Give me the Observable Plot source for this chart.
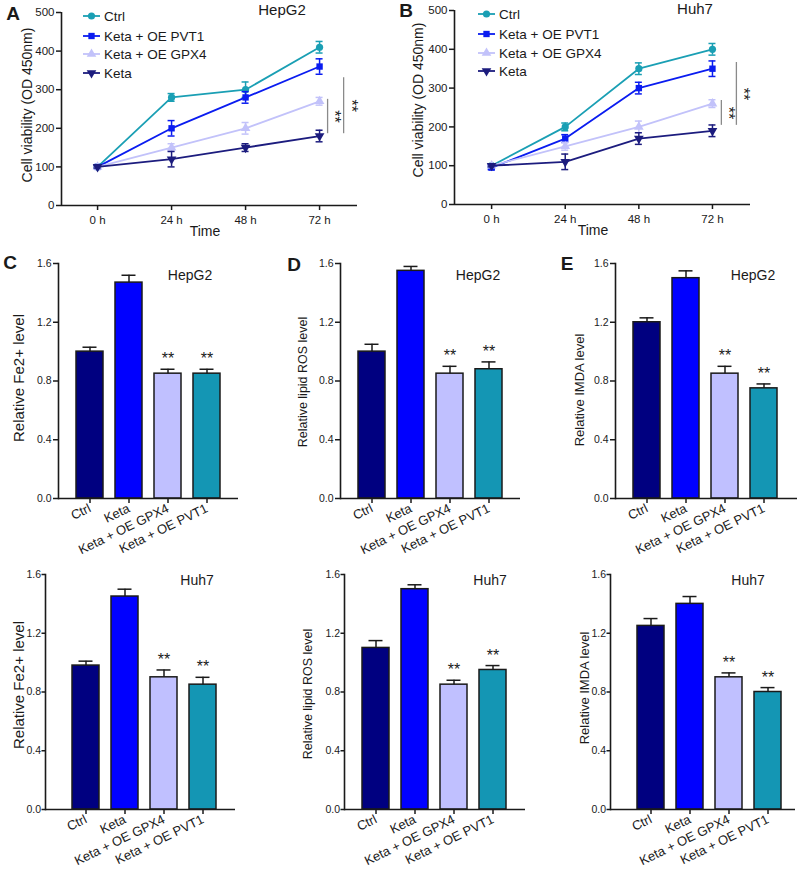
<!DOCTYPE html>
<html><head><meta charset="utf-8">
<script src="https://cdn.jsdelivr.net/npm/d3@7"></script>
<script src="https://cdn.jsdelivr.net/npm/@observablehq/plot@0.6"></script>
<style>
body{margin:0;background:#fff;font-family:"Liberation Sans",Arial,sans-serif;color:#1a1a1a;}
#root{position:relative;width:800px;height:875px;overflow:hidden;background:#fff;}
</style></head><body><div id="root"></div>
<script>
// ---------- data ----------
const hours = [0, 24, 48, 72];
const lineNames = ["Ctrl", "Keta + OE PVT1", "Keta + OE GPX4", "Keta"];
const lineColors = ["#1a9fb4", "#0a1cf0", "#c2c2fa", "#1c1c7e"];

// HepG2 cell viability (OD 450nm)
const hepCtrl = [100, 280, 300, 410], hepCtrlErr = [3, 10, 20, 15];
const hepPVT1 = [100, 200, 280, 360], hepPVT1Err = [3, 20, 15, 20];
const hepGPX4 = [100, 150, 200, 270], hepGPX4Err = [3, 10, 15, 10];
const hepKeta = [100, 120, 150, 180], hepKetaErr = [3, 20, 10, 15];
// Huh7 cell viability (OD 450nm)
const huhCtrl = [100, 200, 350, 400], huhCtrlErr = [5, 10, 15, 15];
const huhPVT1 = [95, 170, 300, 350], huhPVT1Err = [5, 10, 15, 20];
const huhGPX4 = [100, 150, 200, 260], huhGPX4Err = [3, 10, 15, 10];
const huhKeta = [100, 110, 170, 190], huhKetaErr = [3, 20, 15, 15];
// significance brackets (hour position, low, high)
const hepBrackets = [{h: 74.6, lo: 186, hi: 275, s: "**"}, {h: 79.8, lo: 186, hi: 331, s: "**"}];
const huhBrackets = [{h: 74.9, lo: 204, hi: 268, s: "**"}, {h: 79.8, lo: 204, hi: 366, s: "**"}];

const groups = ["Ctrl", "Keta", "Keta + OE GPX4", "Keta + OE PVT1"];
const barColors = ["#000080", "#0000ff", "#c0c0ff", "#1496b4"];
const barSig = ["", "", "**", "**"];
const barTicks = [0, 0.4, 0.8, 1.2, 1.6];

const fe2Hep = [1.00, 1.47, 0.85, 0.85], fe2HepErr = [0.03, 0.05, 0.03, 0.03];
const rosHep = [1.00, 1.55, 0.85, 0.88], rosHepErr = [0.05, 0.03, 0.05, 0.05];
const mdaHep = [1.20, 1.50, 0.85, 0.75], mdaHepErr = [0.03, 0.05, 0.05, 0.03];
const fe2Huh = [0.98, 1.45, 0.90, 0.85], fe2HuhErr = [0.03, 0.05, 0.05, 0.05];
const rosHuh = [1.10, 1.50, 0.85, 0.95], rosHuhErr = [0.05, 0.03, 0.03, 0.03];
const mdaHuh = [1.25, 1.40, 0.90, 0.80], mdaHuhErr = [0.05, 0.05, 0.03, 0.03];

// ---------- helpers ----------
const FONT = "Liberation Sans, Arial, sans-serif";
const INK = "#1a1a1a";
const root = document.getElementById("root");
const triDown = {
  draw(ctx, size) {
    const k = Math.sqrt(size / (Math.sqrt(3) * 3));
    ctx.moveTo(0, 2 * k);
    ctx.lineTo(-Math.sqrt(3) * k, -k);
    ctx.lineTo(Math.sqrt(3) * k, -k);
    ctx.closePath();
  }
};
const lineSymbols = ["circle", "square", "triangle", triDown];
const d3Symbols = [d3.symbolCircle, d3.symbolSquare, d3.symbolTriangle, triDown];

function place(node, left, top, w) {
  const d = document.createElement("div");
  d.style.cssText = `position:absolute;left:${left}px;top:${top}px;width:${w}px;`;
  d.appendChild(node);
  root.appendChild(d);
}
function addText(str, x, y, size, opts = {}) {
  const d = document.createElement("div");
  d.textContent = str;
  d.style.cssText = `position:absolute;left:${x}px;top:${y}px;font-size:${size}px;font-weight:${opts.weight || "normal"};white-space:nowrap;line-height:1;transform:translate(-50%,-50%) rotate(${opts.rotate || 0}deg);`;
  root.appendChild(d);
}

function makeLine(cfg) {
  const rows = [];
  cfg.series.forEach((s, i) => hours.forEach((h, j) => rows.push({name: lineNames[i], h, v: s.v[j], e: s.e[j]})));
  const marks = [
    Plot.ruleY([0], {strokeWidth: 1.6, stroke: INK}),
    Plot.ruleX([cfg.xdom[0]], {strokeWidth: 1.6, stroke: INK}),
    Plot.axisY({ticks: [0, 100, 200, 300, 400, 500], tickSize: 5, tickPadding: 2, fontSize: 11.5, strokeWidth: 1.5, label: null}),
    Plot.axisX({ticks: hours, tickFormat: d => d + " h", tickSize: 5, tickPadding: 5, fontSize: 11.5, strokeWidth: 1.5, label: null}),
    Plot.ruleX(cfg.brackets, {x: "h", y1: "lo", y2: "hi", stroke: "#8a8a8a", strokeWidth: 1.3}),
    Plot.text(cfg.brackets, {x: "h", y: d => (d.lo + d.hi) / 2, text: "s", rotate: 90, dx: 7, fontSize: 16, fill: INK})
  ];
  lineNames.forEach((n, i) => {
    const d = rows.filter(r => r.name === n);
    const c = lineColors[i];
    marks.push(Plot.line(d, {x: "h", y: "v", stroke: c, strokeWidth: 1.8}));
    marks.push(Plot.ruleX(d, {x: "h", y1: r => r.v - r.e, y2: r => r.v + r.e, stroke: c, strokeWidth: 1.5}));
    marks.push(Plot.ruleY(d, {y: r => r.v + r.e, x1: "h", x2: "h", insetLeft: -3.5, insetRight: -3.5, stroke: c, strokeWidth: 1.5}));
    marks.push(Plot.ruleY(d, {y: r => r.v - r.e, x1: "h", x2: "h", insetLeft: -3.5, insetRight: -3.5, stroke: c, strokeWidth: 1.5}));
    marks.push(Plot.dot(d, {x: "h", y: "v", fill: c, stroke: "none", symbol: lineSymbols[i], r: 3.6}));
  });
  const svg = Plot.plot({
    width: cfg.width, height: cfg.height,
    marginLeft: cfg.ml, marginRight: cfg.mr, marginTop: cfg.mt, marginBottom: cfg.mb,
    x: {domain: cfg.xdom},
    y: {domain: [0, 500]},
    style: {fontFamily: FONT, fontSize: "11.5px", color: INK, background: "none", overflow: "visible"},
    marks
  });
  place(svg, cfg.left, cfg.top, cfg.width);
}

function makeBar(cfg) {
  const data = groups.map((g, i) => ({g, v: cfg.v[i], e: cfg.e[i], s: barSig[i]}));
  const left = cfg.left, top = cfg.y16 - 12;
  const width = cfg.B - left + 3, height = cfg.y0 - top + 72;
  const step = (cfg.c3 - cfg.c0) / 3, bw = 27;
  const pi = 1 - bw / step;
  const r0 = cfg.c0 - bw / 2 - left;
  const svg = Plot.plot({
    width, height,
    marginLeft: cfg.A - left, marginRight: 3, marginTop: 12, marginBottom: height - 12 - (cfg.y0 - cfg.y16),
    x: {type: "band", domain: groups, range: [r0, r0 + step * (4 - pi)], paddingInner: pi, paddingOuter: 0},
    y: {domain: [0, 1.6]},
    color: {domain: groups, range: barColors},
    style: {fontFamily: FONT, fontSize: "10.5px", color: INK, background: "none", overflow: "visible"},
    marks: [
      Plot.barY(data, {x: "g", y: "v", fill: "g", stroke: INK, strokeWidth: 1.5}),
      Plot.ruleX(data, {x: "g", y1: "v", y2: d => d.v + d.e, strokeWidth: 1.5, stroke: INK}),
      Plot.tickY(data, {x: "g", y: d => d.v + d.e, insetLeft: 6.5, insetRight: 6.5, strokeWidth: 1.5, stroke: INK}),
      Plot.text(data.filter(d => d.s), {x: "g", y: d => d.v + d.e, text: "s", dy: -10, fontSize: 16, fill: INK}),
      Plot.ruleY([0], {strokeWidth: 1.6, stroke: INK}),
      Plot.frame({anchor: "left", strokeWidth: 1.6, stroke: INK}),
      Plot.axisY({ticks: barTicks, tickFormat: ".1f", tickSize: cfg.ts, tickPadding: cfg.tp, fontSize: 10.5, strokeWidth: 1.5, label: null}),
      Plot.axisX({tickSize: 5, tickPadding: 4, tickRotate: -26, fontSize: 13, strokeWidth: 1.5, label: null})
    ]
  });
  place(svg, left, top, width);
}

function addLegend(x0, x1, tx, ys) {
  const svg = d3.select(root).append("svg")
    .attr("width", 800).attr("height", 875)
    .style("position", "absolute").style("left", "0px").style("top", "0px")
    .style("pointer-events", "none").style("overflow", "visible");
  lineNames.forEach((n, i) => {
    const g = svg.append("g");
    g.append("line").attr("x1", x0).attr("x2", x1).attr("y1", ys[i]).attr("y2", ys[i])
      .attr("stroke", lineColors[i]).attr("stroke-width", 1.8);
    g.append("path").attr("d", d3.symbol(d3Symbols[i], 40)())
      .attr("transform", `translate(${(x0 + x1) / 2},${ys[i]})`).attr("fill", lineColors[i]);
    g.append("text").attr("x", tx).attr("y", ys[i]).attr("dy", "0.35em")
      .attr("font-size", 13.5).attr("font-family", FONT).attr("fill", INK).text(n);
  });
}

// ---------- panels A & B ----------
makeLine({left: 0, top: 0, width: 400, height: 250, ml: 61, mr: 43, mt: 12, mb: 45, xdom: [-11.7, 84.3],
  series: [{v: hepCtrl, e: hepCtrlErr}, {v: hepPVT1, e: hepPVT1Err}, {v: hepGPX4, e: hepGPX4Err}, {v: hepKeta, e: hepKetaErr}],
  brackets: hepBrackets});
makeLine({left: 400, top: 0, width: 400, height: 250, ml: 54, mr: 50, mt: 10, mb: 46, xdom: [-12.1, 84.4],
  series: [{v: huhCtrl, e: huhCtrlErr}, {v: huhPVT1, e: huhPVT1Err}, {v: huhGPX4, e: huhGPX4Err}, {v: huhKeta, e: huhKetaErr}],
  brackets: huhBrackets});
addLegend(83, 100, 104, [16, 36, 54, 73]);
addLegend(478, 495, 499, [14, 34, 53, 71]);
addText("HepG2", 282, 9, 15);
addText("Huh7", 695, 8, 15);
addText("Time", 205, 231, 14);
addText("Time", 593, 230, 14);
addText("Cell viability (OD 450nm)", 27, 105, 14, {rotate: -90});
addText("Cell viability (OD 450nm)", 418, 100, 14, {rotate: -90});

// ---------- panels C, D, E ----------
makeBar({left: 0, A: 58, B: 238, c0: 89, c3: 207, y0: 498, y16: 263, v: fe2Hep, e: fe2HepErr, ts: 5, tp: 2});
makeBar({left: 262, A: 340, B: 520, c0: 371, c3: 489, y0: 498, y16: 263, v: rosHep, e: rosHepErr, ts: 5, tp: 2});
makeBar({left: 535, A: 615, B: 797, c0: 646, c3: 764, y0: 498, y16: 263, v: mdaHep, e: mdaHepErr, ts: 5, tp: 2});
makeBar({left: 0, A: 45, B: 235, c0: 85, c3: 203, y0: 809, y16: 574, v: fe2Huh, e: fe2HuhErr, ts: 3.5, tp: 1});
makeBar({left: 262, A: 344, B: 525, c0: 375, c3: 493, y0: 809, y16: 574, v: rosHuh, e: rosHuhErr, ts: 3.5, tp: 1});
makeBar({left: 535, A: 610, B: 795, c0: 650, c3: 768, y0: 809, y16: 574, v: mdaHuh, e: mdaHuhErr, ts: 3.5, tp: 1});

addText("HepG2", 190, 275, 14); addText("HepG2", 478, 275, 14); addText("HepG2", 753, 275, 14);
addText("Huh7", 197, 580, 14); addText("Huh7", 490, 580, 14); addText("Huh7", 748, 580, 14);
addText("Relative Fe2+ level", 18, 378, 15, {rotate: -90});
addText("Relative lipid ROS level", 303, 382, 12.5, {rotate: -90});
addText("Relative IMDA level", 579, 390, 13, {rotate: -90});
addText("Relative Fe2+ level", 18, 685, 15, {rotate: -90});
addText("Relative lipid ROS level", 308, 694, 12.5, {rotate: -90});
addText("Relative IMDA level", 584, 688, 13, {rotate: -90});

// panel letters
addText("A", 13, 13, 19, {weight: "bold"});
addText("B", 406, 10, 19, {weight: "bold"});
addText("C", 10, 262, 19, {weight: "bold"});
addText("D", 294, 264, 19, {weight: "bold"});
addText("E", 567, 263, 19, {weight: "bold"});
</script></body></html>
